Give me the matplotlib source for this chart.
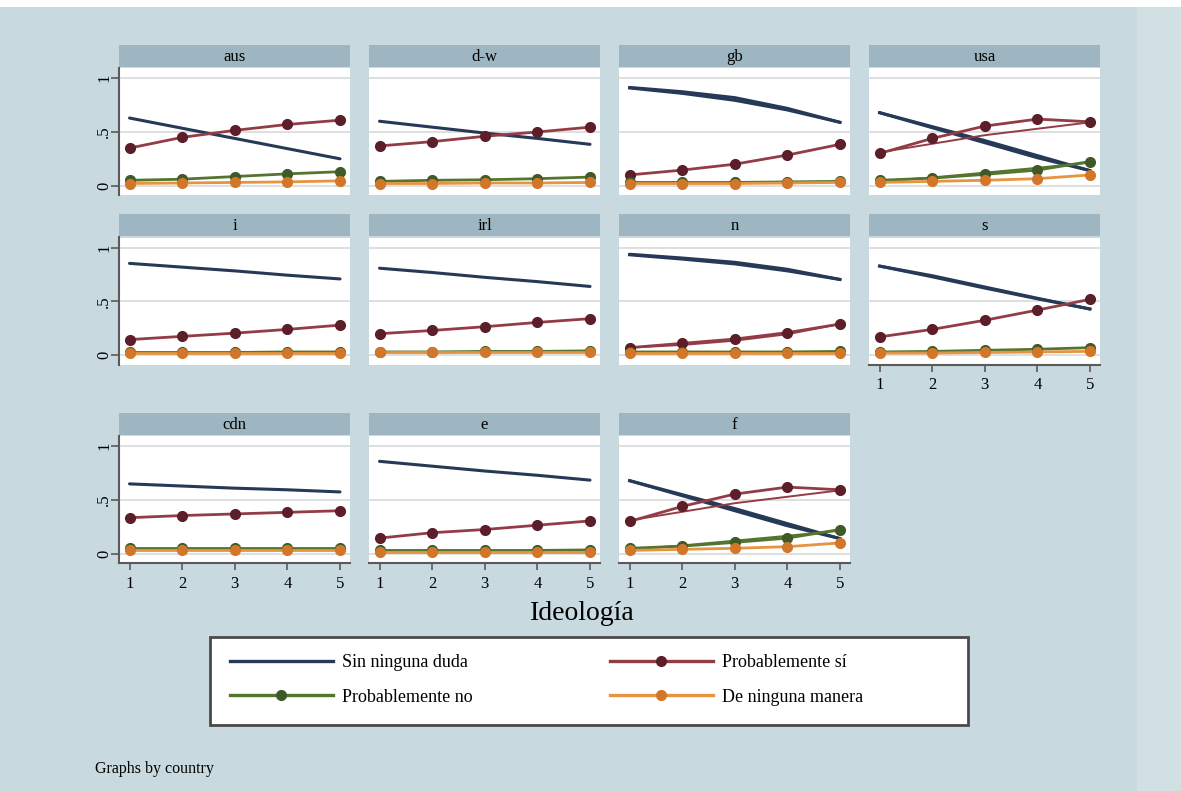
import matplotlib
matplotlib.use('Agg')
import matplotlib.pyplot as plt
from matplotlib.lines import Line2D
from matplotlib.patches import Rectangle

# ---------------- data ----------------
ideologia = [1, 2, 3, 4, 5]
countries = ['aus', 'd-w', 'gb', 'usa', 'i', 'irl', 'n', 's', 'cdn', 'e', 'f']
series_labels = ['Sin ninguna duda', 'Probablemente sí', 'Probablemente no', 'De ninguna manera']
y_ticks = [0, 0.5, 1]
y_ticklabels = ['0', '.5', '1']

sin_duda = {
    'aus': [0.63, 0.535, 0.44, 0.345, 0.25],
    'd-w': [0.60, 0.545, 0.49, 0.44, 0.385],
    'gb':  [0.915, 0.875, 0.82, 0.72, 0.59],
    'usa': [0.68, 0.54, 0.40, 0.26, 0.14],
    'i':   [0.855, 0.82, 0.785, 0.745, 0.71],
    'irl': [0.81, 0.77, 0.725, 0.685, 0.64],
    'n':   [0.94, 0.905, 0.865, 0.80, 0.705],
    's':   [0.83, 0.74, 0.635, 0.53, 0.43],
    'cdn': [0.65, 0.63, 0.61, 0.595, 0.575],
    'e':   [0.86, 0.815, 0.77, 0.73, 0.685],
    'f':   [0.68, 0.54, 0.40, 0.26, 0.14],
}
prob_si = {
    'aus': [0.35, 0.45, 0.515, 0.57, 0.61],
    'd-w': [0.37, 0.41, 0.46, 0.50, 0.545],
    'gb':  [0.10, 0.145, 0.20, 0.285, 0.385],
    'usa': [0.30, 0.44, 0.555, 0.62, 0.595],
    'i':   [0.145, 0.175, 0.205, 0.24, 0.28],
    'irl': [0.20, 0.23, 0.265, 0.305, 0.34],
    'n':   [0.07, 0.11, 0.15, 0.21, 0.29],
    's':   [0.17, 0.24, 0.325, 0.42, 0.52],
    'cdn': [0.335, 0.355, 0.37, 0.385, 0.40],
    'e':   [0.145, 0.195, 0.225, 0.265, 0.305],
    'f':   [0.30, 0.44, 0.555, 0.62, 0.595],
}
prob_no = {
    'aus': [0.05, 0.06, 0.085, 0.11, 0.13],
    'd-w': [0.04, 0.05, 0.055, 0.065, 0.08],
    'gb':  [0.03, 0.03, 0.03, 0.035, 0.04],
    'usa': [0.05, 0.07, 0.105, 0.145, 0.225],
    'i':   [0.025, 0.025, 0.025, 0.03, 0.03],
    'irl': [0.03, 0.03, 0.035, 0.035, 0.04],
    'n':   [0.03, 0.03, 0.03, 0.03, 0.035],
    's':   [0.03, 0.035, 0.045, 0.055, 0.07],
    'cdn': [0.05, 0.05, 0.05, 0.05, 0.05],
    'e':   [0.03, 0.03, 0.03, 0.03, 0.035],
    'f':   [0.05, 0.07, 0.105, 0.145, 0.225],
}
ninguna = {
    'aus': [0.02, 0.025, 0.03, 0.035, 0.045],
    'd-w': [0.02, 0.02, 0.025, 0.025, 0.03],
    'gb':  [0.02, 0.02, 0.02, 0.025, 0.03],
    'usa': [0.03, 0.04, 0.05, 0.065, 0.10],
    'i':   [0.02, 0.02, 0.02, 0.02, 0.02],
    'irl': [0.025, 0.025, 0.025, 0.025, 0.025],
    'n':   [0.02, 0.02, 0.02, 0.02, 0.02],
    's':   [0.02, 0.02, 0.025, 0.03, 0.035],
    'cdn': [0.035, 0.035, 0.035, 0.035, 0.035],
    'e':   [0.02, 0.02, 0.02, 0.02, 0.02],
    'f':   [0.03, 0.04, 0.05, 0.065, 0.10],
}
# second (fitted) traces that show as doubled lines in some panels
sin_duda_fit = {
    'gb':  [0.91, 0.86, 0.795, 0.705, 0.59],
    'n':   [0.935, 0.895, 0.85, 0.785, 0.705],
    'usa': [0.68, 0.55, 0.42, 0.28, 0.14],
    'f':   [0.68, 0.55, 0.42, 0.28, 0.14],
    's':   [0.83, 0.73, 0.625, 0.525, 0.43],
}
prob_si_fit = {
    'usa': [0.31, 0.39, 0.47, 0.53, 0.59],
    'f':   [0.31, 0.39, 0.47, 0.53, 0.59],
    'n':   [0.07, 0.095, 0.135, 0.195, 0.29],
}
prob_no_fit = {
    'usa': [0.04, 0.075, 0.12, 0.165, 0.215],
    'f':   [0.04, 0.075, 0.12, 0.165, 0.215],
}

# ---------------- style ----------------
W, H = 1181, 791
BG = '#C8DADF'
BAND = '#D0E0E3'
STRIP = '#9DB6C1'
GRID = '#DCDCDC'
AXC = '#5A5A5A'
SERIF = ['Liberation Serif', 'DejaVu Serif']

c_sin = '#263956'
c_si_line, c_si_mk = '#933C46', '#5C1E28'
c_no_line, c_no_mk = '#55752F', '#3E5B27'
c_ni_line, c_ni_mk = '#E5943F', '#D2772A'

plt.rcParams['font.family'] = SERIF

fig = plt.figure(figsize=(W / 100, H / 100), dpi=100, facecolor=BG)
# top white strip and right lighter band
fig.patches.append(Rectangle((0, 1 - 7 / H), 1, 7 / H, transform=fig.transFigure,
                             facecolor='white', edgecolor='none', zorder=0))
fig.patches.append(Rectangle((1137 / W, 0), (W - 1137) / W, 1 - 7 / H, transform=fig.transFigure,
                             facecolor=BAND, edgecolor='none', zorder=0))

col_left = [119, 369, 619, 869]
row_top = [68, 237.5, 436]
pw, ph = 231, 127
strip_h = 22
strip_gap = 1.5

x_bottom_label = {'cdn', 'e', 'f', 's'}

for k, c in enumerate(countries):
    r, cc = divmod(k, 4)
    x0 = col_left[cc]
    y0 = row_top[r]
    ax = fig.add_axes([x0 / W, 1 - (y0 + ph) / H, pw / W, ph / H])
    ax.set_facecolor('white')
    ax.set_xlim(0.8, 5.19)
    ax.set_ylim(-0.087, 1.096)
    for gy in y_ticks:
        ax.axhline(gy, color=GRID, lw=1.3, zorder=0.5)

    ax.plot(ideologia, sin_duda[c], color=c_sin, lw=2.2, zorder=2, solid_capstyle='round')
    if c in sin_duda_fit:
        ax.plot(ideologia, sin_duda_fit[c], color=c_sin, lw=2.2, zorder=2)
    if c in prob_si_fit:
        ax.plot(ideologia, prob_si_fit[c], color=c_si_line, lw=1.4, zorder=3)
    ax.plot(ideologia, prob_si[c], color=c_si_line, lw=2.0, marker='o', ms=7,
            mfc=c_si_mk, mec=c_si_mk, zorder=3)
    if c in prob_no_fit:
        ax.plot(ideologia, prob_no_fit[c], color=c_no_line, lw=1.6, zorder=4)
    ax.plot(ideologia, prob_no[c], color=c_no_line, lw=2.0, marker='o', ms=7,
            mfc=c_no_mk, mec=c_no_mk, zorder=4)
    ax.plot(ideologia, ninguna[c], color=c_ni_line, lw=2.0, marker='o', ms=7,
            mfc=c_ni_mk, mec=c_ni_mk, zorder=5)

    for s in ['top', 'right']:
        ax.spines[s].set_visible(False)
    # y axis
    if cc == 0:
        ax.spines['left'].set_color(AXC)
        ax.spines['left'].set_linewidth(1.5)
        ax.set_yticks(y_ticks)
        ax.set_yticklabels(y_ticklabels, rotation=90, va='center', fontsize=12)
        ax.tick_params(axis='y', length=6, width=1.2, color=AXC, pad=-1)
    else:
        ax.spines['left'].set_visible(False)
        ax.set_yticks([])
    # x axis
    if c in x_bottom_label:
        ax.spines['bottom'].set_color(AXC)
        ax.spines['bottom'].set_linewidth(1.5)
        ax.set_xticks(ideologia)
        ax.set_xticklabels([str(v) for v in ideologia], fontsize=12)
        ax.tick_params(axis='x', length=5, width=1.2, color=AXC, pad=4)
    else:
        ax.spines['bottom'].set_visible(False)
        ax.set_xticks([])

    # strip header
    sax = fig.add_axes([x0 / W, 1 - (y0 - strip_gap) / H, pw / W, strip_h / H])
    sax.set_facecolor(STRIP)
    sax.set_xticks([])
    sax.set_yticks([])
    for s in sax.spines.values():
        s.set_visible(False)
    sax.text(0.5, 0.45, c, ha='center', va='center', fontsize=12, transform=sax.transAxes)

fig.text(582 / W, 1 - 614 / H, 'Ideología', ha='center', va='center', fontsize=20)
fig.text(95 / W, 1 - 769 / H, 'Graphs by country', ha='left', va='center', fontsize=11.5)

# legend box
fig.patches.append(Rectangle((210 / W, 1 - 725 / H), 758 / W, 88 / H, transform=fig.transFigure,
                             facecolor='white', edgecolor='#4A4A4A', lw=2, zorder=1))
handles = [
    Line2D([], [], color=c_sin, lw=2.4),
    Line2D([], [], color=c_no_line, lw=2.4, marker='o', ms=7, mfc=c_no_mk, mec=c_no_mk),
    Line2D([], [], color=c_si_line, lw=2.4, marker='o', ms=7, mfc=c_si_mk, mec=c_si_mk),
    Line2D([], [], color=c_ni_line, lw=2.4, marker='o', ms=7, mfc=c_ni_mk, mec=c_ni_mk),
]
labels = [series_labels[0], series_labels[2], series_labels[1], series_labels[3]]
leg = fig.legend(handles, labels, ncol=2, loc='center left',
                 bbox_to_anchor=(230 / W, 1 - 680 / H),
                 fontsize=13, handlelength=5.7, handletextpad=0.5, labelspacing=0.95,
                 columnspacing=7.6, borderpad=0, frameon=False, borderaxespad=0)
leg.set_zorder(3)

fig.savefig('out.png', dpi=100, facecolor=BG)
